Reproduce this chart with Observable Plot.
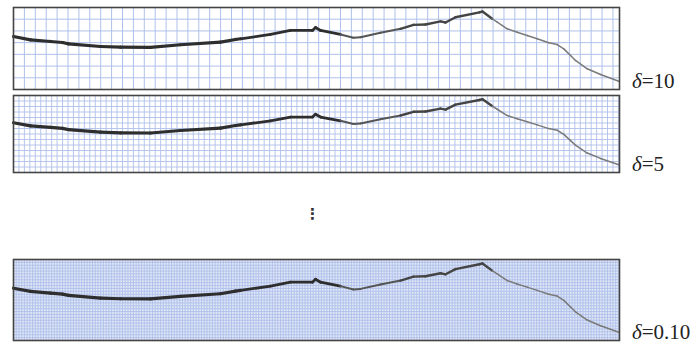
<!DOCTYPE html>
<html>
<head>
<meta charset="utf-8">
<script src="https://cdn.jsdelivr.net/npm/d3@7"></script>
<script src="https://cdn.jsdelivr.net/npm/@observablehq/plot@0.6"></script>
<style>
  body { margin: 0; background: #fff; }
  #fig { position: relative; width: 693px; height: 347px; overflow: hidden; background: #fff; }
  .panel { position: absolute; left: 0; }
  .lab {
    position: absolute; left: 632px;
    font-family: "Liberation Serif", "Times New Roman", Times, serif;
    font-size: 21px; line-height: 21px; color: #222; white-space: nowrap;
  }
  .dots {
    position: absolute; left: 305px; top: 207px;
    font-family: "DejaVu Sans", sans-serif; font-size: 15px; line-height: 15px;
    font-weight: bold; color: #333;
  }
</style>
</head>
<body>
<div id="fig"></div>
<script>
// Section profile: distance along the trace and surface elevation (grid units)
const distance = [0, 15.6, 33.9, 45.0, 50.5, 79.8, 98.2, 125.7, 153.2, 189.9, 203.7, 208.3,
  235.8, 254.1, 274.3, 277.1, 281.7, 300.0, 311.9, 318.4, 336.7, 355.1, 367.0, 378.0,
  391.8, 396.4, 405.5, 427.5, 430.3, 439.2, 443.8, 453.0, 462.1, 471.3, 480.5, 491.1,
  498.8, 504.9, 511.1, 515.6, 526.4, 538.6, 555.4];
const elevation = [45.2, 42.4, 41.0, 40.1, 39.0, 36.7, 36.1, 35.9, 38.2, 40.4, 42.7, 43.3,
  47.0, 50.4, 50.4, 52.9, 50.4, 47.0, 44.1, 44.6, 48.4, 51.8, 55.2, 55.5,
  58.1, 57.2, 61.7, 65.9, 66.6, 60.4, 57.5, 51.8, 48.9, 46.1, 43.3, 39.9,
  38.4, 34.7, 29.0, 24.8, 17.7, 12.8, 7.1];

// Mesh size of each panel and its label
const deltaLabels = ["10", "5", "0.10"];
// drawn mesh spacing per panel (grid units)
const meshSteps = [10, 5, 2.5];

const xDomain = [0, 556];
const yDomain = [0, 70];

const points = distance.map((d, i) => ({x: d, y: elevation[i]}));
const segments = d3.pairs(points).map(([a, b]) => ({x1: a.x, y1: a.y, x2: b.x, y2: b.y}));

// pen weight and tone along the trace
function penWidth(s) {
  const m = (s.x1 + s.x2) / 2;
  if (m < 215) return 3.2;
  if (m < 300) return 2.8;
  if (m < 360) return 2.0;
  if (m < 440) return 2.4;
  return 1.5;
}
function penColor(s) {
  const m = (s.x1 + s.x2) / 2;
  if (m < 300) return "#2e2e2e";
  if (m < 360) return "#555";
  if (m < 440) return "#444";
  return "#7a7a7a";
}

// frame top and frame height of each panel on the page
const layout = [[7, 82], [95, 77], [259, 81]];

const fig = document.getElementById("fig");

layout.forEach(([top, h], i) => {
  const step = meshSteps[i];
  const xs = d3.range(xDomain[0], xDomain[1] + 1e-6, step);
  const ys = d3.range(yDomain[0], yDomain[1] + 1e-6, step);
  const chart = Plot.plot({
    width: 693,
    height: h + 4,
    marginTop: 2,
    marginBottom: 2,
    marginLeft: 13,
    marginRight: 74,
    x: {domain: xDomain, axis: null},
    y: {domain: yDomain, axis: null},
    marks: [
      Plot.frame({fill: i === 2 ? "#e0e7f7" : "#fff", stroke: null}),
      Plot.ruleX(xs, {stroke: "#afc0ea", strokeWidth: i === 0 ? 1 : 0.9}),
      Plot.ruleY(ys, {stroke: "#afc0ea", strokeWidth: i === 0 ? 1 : 0.9}),
      Plot.link(segments, {
        x1: "x1", y1: "y1", x2: "x2", y2: "y2",
        stroke: penColor, strokeWidth: penWidth, strokeLinecap: "round"
      }),
      Plot.frame({stroke: "#444", strokeWidth: 1.6})
    ]
  });
  chart.classList.add("panel");
  chart.style.top = (top - 2) + "px";
  fig.appendChild(chart);

  const lab = document.createElement("div");
  lab.className = "lab";
  lab.style.top = (top + h - 18) + "px";
  lab.innerHTML = "<i>δ</i>=" + deltaLabels[i];
  fig.appendChild(lab);
});

const dots = document.createElement("div");
dots.className = "dots";
dots.textContent = "⋮";
fig.appendChild(dots);
</script>
</body>
</html>
